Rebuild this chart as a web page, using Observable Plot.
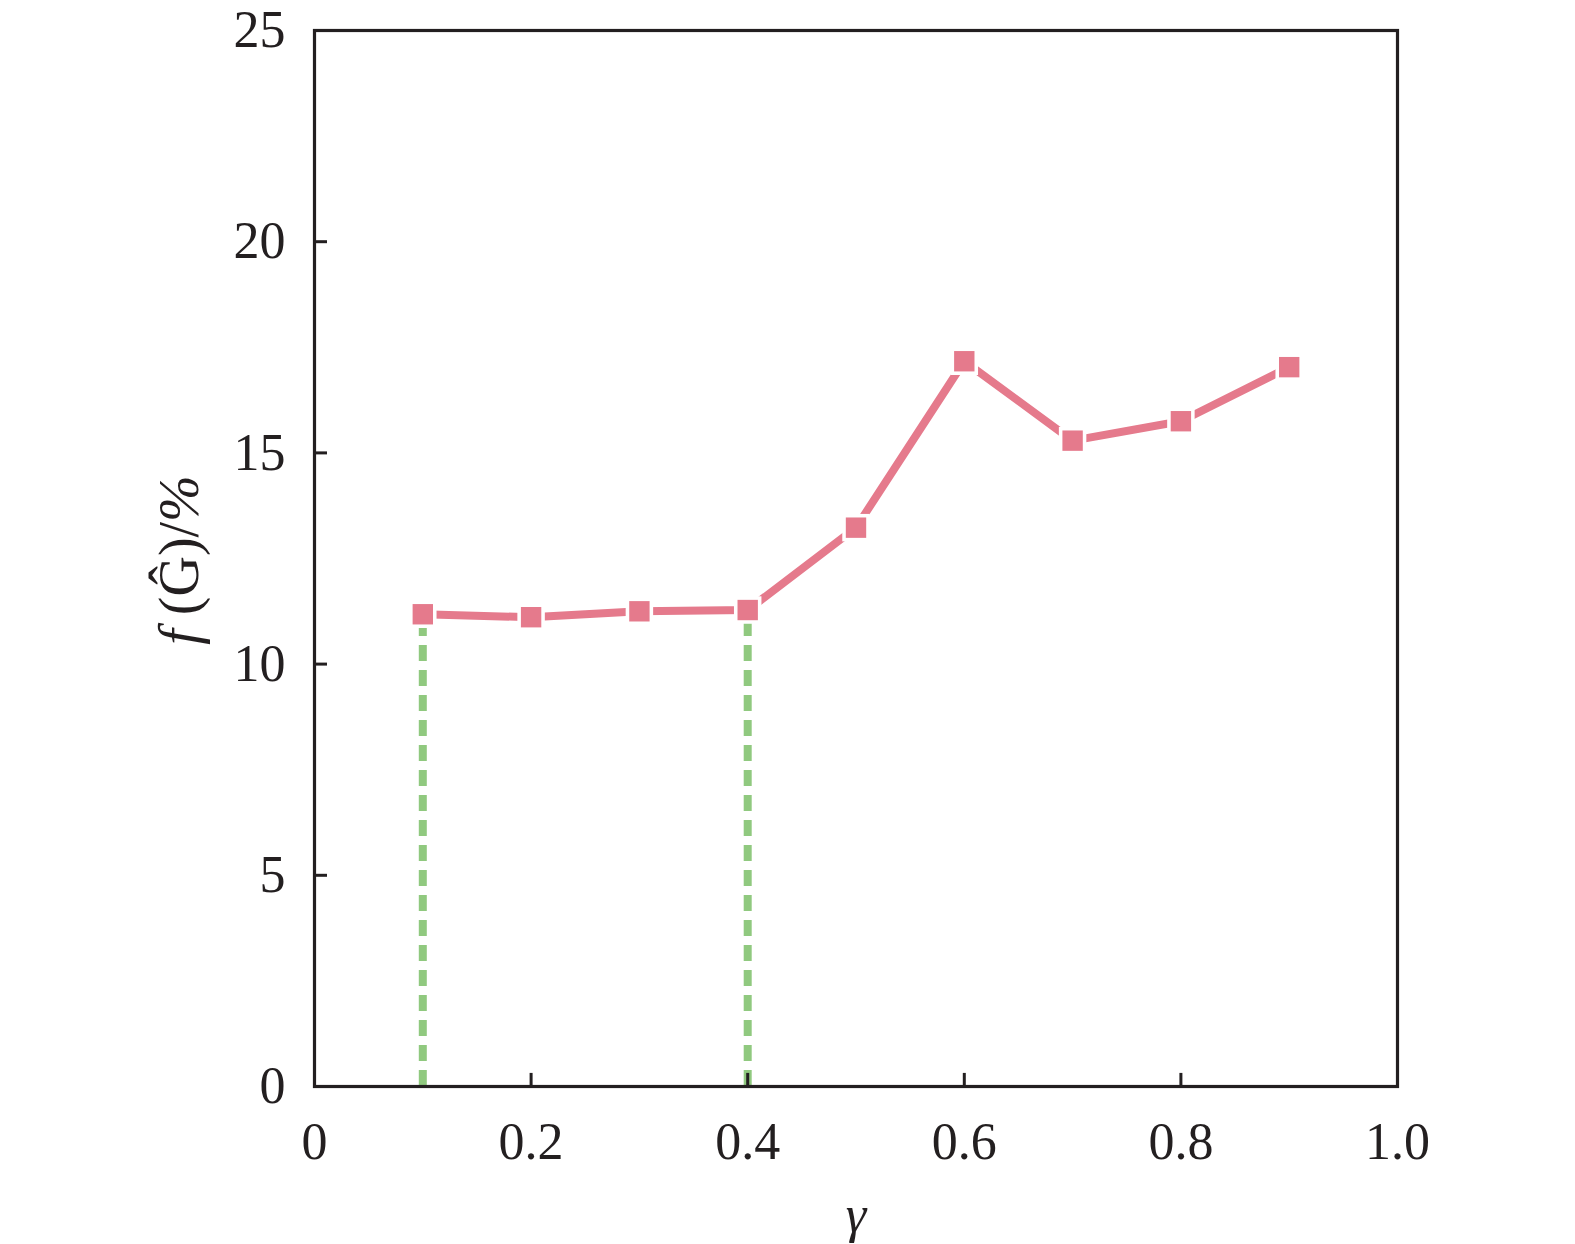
<!DOCTYPE html>
<html>
<head>
<meta charset="utf-8">
<script src="https://cdn.jsdelivr.net/npm/d3@7"></script>
<script src="https://cdn.jsdelivr.net/npm/@observablehq/plot@0.6"></script>
<style>
  body { margin: 0; background: #fff; }
  svg text { font-family: "Liberation Serif", serif; }
</style>
</head>
<body>
<div id="chart"></div>
<script>
const gammas = [0.1, 0.2, 0.3, 0.4, 0.5, 0.6, 0.7, 0.8, 0.9];
const values = [11.18, 11.11, 11.25, 11.28, 13.23, 17.17, 15.29, 15.75, 17.03];
const guideGammas = [0.1, 0.4];
const guideValues = [11.18, 11.28];
const xTicks = [0, 0.2, 0.4, 0.6, 0.8, 1.0];
const xTickLabels = ["0", "0.2", "0.4", "0.6", "0.8", "1.0"];
const yTicks = [0, 5, 10, 15, 20, 25];

const points = gammas.map((g, i) => ({g, v: values[i]}));
const guides = guideGammas.map((g, i) => ({g, v: guideValues[i]}));

const ink = "#231f20";
const pink = "#e57a8c";
const green = "#90c97f";
const font = "Liberation Serif";

const plot = Plot.plot({
  width: 1575,
  height: 1244,
  marginLeft: 314,
  marginRight: 178,
  marginTop: 30,
  marginBottom: 158,
  style: {fontFamily: font, fontSize: "52px", color: ink, background: "#fff"},
  x: {domain: [0, 1]},
  y: {domain: [0, 25]},
  marks: [
    Plot.ruleX(guides, {x: "g", y1: 0, y2: "v", stroke: green, strokeWidth: 8, strokeDasharray: "16,9"}),
    Plot.line(points, {x: "g", y: "v", stroke: pink, strokeWidth: 8, strokeLinecap: "round", strokeLinejoin: "round"}),
    Plot.dot(points, {x: "g", y: "v", symbol: "square", r: 15.5, fill: "#fff", stroke: "none"}),
    Plot.dot(points, {x: "g", y: "v", symbol: "square", r: 11.5, fill: pink, stroke: "none"}),
    Plot.ruleX(xTicks, {x: d => d, y1: 0, y2: 0.31, stroke: ink, strokeWidth: 3}),
    Plot.ruleY(yTicks, {y: d => d, x1: 0, x2: 0.012, stroke: ink, strokeWidth: 3}),
    Plot.frame({stroke: ink, strokeWidth: 3.2}),
    Plot.axisX({ticks: xTicks, tickFormat: (d, i) => xTickLabels[i], tickSize: 0, tickPadding: 36, label: null, fontSize: 52, fontFamily: font}),
    Plot.axisY({ticks: yTicks, tickSize: 0, tickPadding: 29, label: null, fontSize: 52, fontFamily: font}),
    Plot.text(["γ"], {frameAnchor: "bottom", dy: 129, lineAnchor: "middle", fontStyle: "italic", fontSize: 52, fontFamily: font, fill: ink})
  ]
});

document.getElementById("chart").appendChild(plot);

// y-axis label with mixed styles
const svg = d3.select(plot);
const lbl = svg.append("text")
  .attr("transform", "translate(198,560) rotate(-90)")
  .attr("text-anchor", "middle")
  .attr("font-family", font)
  .attr("font-size", 56)
  .attr("fill", ink);
lbl.append("tspan").attr("font-style", "italic").text("f");
lbl.append("tspan").text(" (Ĝ)/");
lbl.append("tspan").attr("font-style", "italic").text("%");
</script>
</body>
</html>
